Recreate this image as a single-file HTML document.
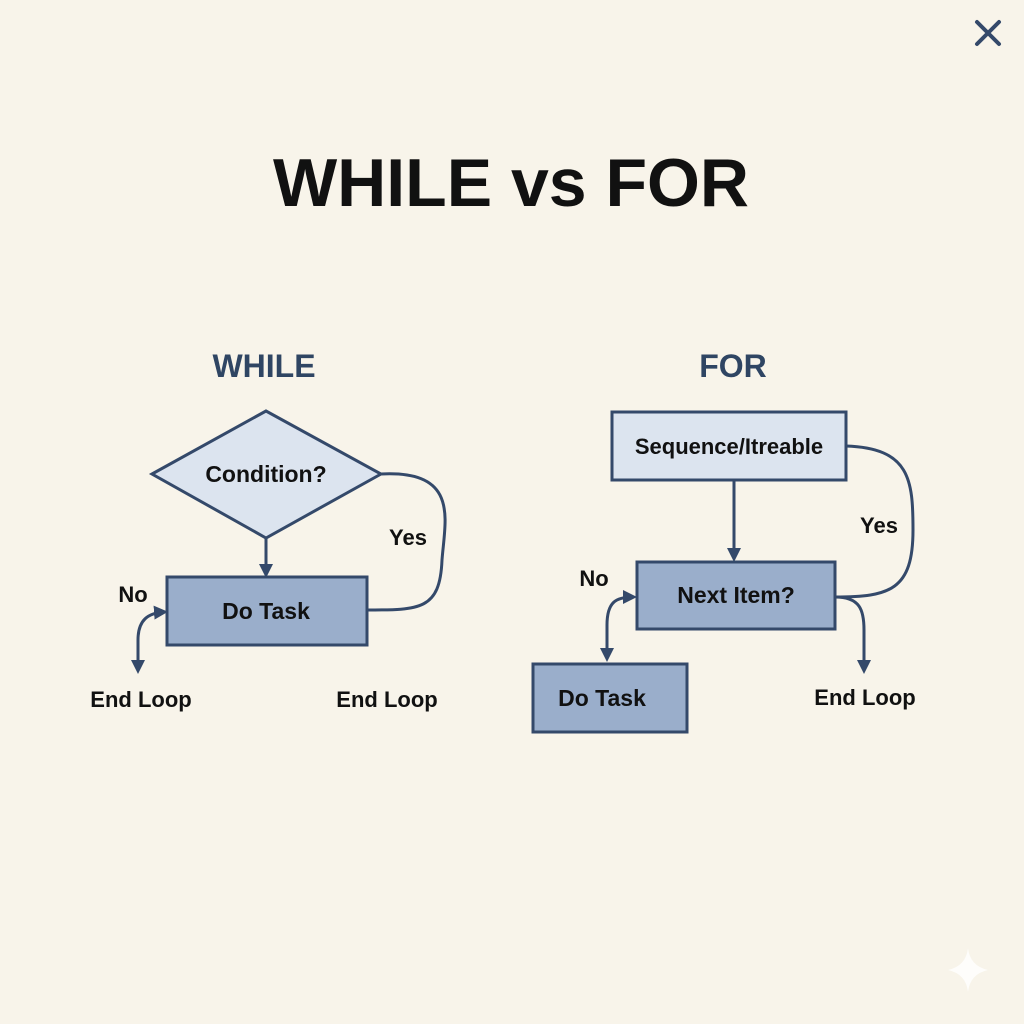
<!DOCTYPE html>
<html><head><style>
html,body{margin:0;padding:0;background:#f8f4ea;}
svg{display:block}
text{font-family:"Liberation Sans",sans-serif;font-weight:bold}
</style></head><body>
<svg width="1024" height="1024" viewBox="0 0 1024 1024" xmlns="http://www.w3.org/2000/svg">
<defs>
<marker id="a" markerWidth="14" markerHeight="14" refX="10" refY="7" orient="auto" markerUnits="userSpaceOnUse" viewBox="0 0 14 14"><path d="M0,0 L14,7 L0,14 z" fill="#34496a"/></marker>
</defs>
<rect width="1024" height="1024" fill="#f8f4ea"/>
<path d="M977,22 L999,44 M999,22 L977,44" stroke="#34496a" stroke-width="4" stroke-linecap="round"/>
<text x="511" y="206" font-size="68" text-anchor="middle" fill="#111" textLength="476" lengthAdjust="spacingAndGlyphs">WHILE vs FOR</text>
<text x="264" y="377" font-size="32" text-anchor="middle" fill="#2f4563">WHILE</text>
<text x="733" y="377" font-size="32" text-anchor="middle" fill="#2f4563">FOR</text>
<g stroke="#34496a" stroke-width="3" fill="none">
<polygon points="152,474 266,411 381,474 266,538" fill="#dce4ef"/>
<rect x="167" y="577" width="200" height="68" fill="#9aaecb"/>
<line x1="266" y1="538" x2="266" y2="574" marker-end="url(#a)"/>
<path d="M381,474 C460,470 445,520 442,560 C440,610 420,610 367,610"/>
<path d="M138,640 C138,620 148,613 164,612" marker-end="url(#a)"/>
<path d="M138,640 L138,670" marker-end="url(#a)"/>
<rect x="612" y="412" width="234" height="68" fill="#dce4ef"/>
<rect x="637" y="562" width="198" height="67" fill="#9aaecb"/>
<rect x="533" y="664" width="154" height="68" fill="#9aaecb"/>
<line x1="734" y1="480" x2="734" y2="558" marker-end="url(#a)"/>
<path d="M846,446 C910,448 913,480 913,530 C913,590 890,597 835,597"/>
<path d="M835,597 C860,597 864,610 864,630 L864,670" marker-end="url(#a)"/>
<path d="M607,625 C607,602 616,597 633,597" marker-end="url(#a)"/>
<path d="M607,625 L607,658" marker-end="url(#a)"/>
</g>
<g fill="#111" font-size="23" text-anchor="middle">
<text x="266" y="482">Condition?</text>
<text x="266" y="619">Do Task</text>
<text x="729" y="454" font-size="22">Sequence/Itreable</text>
<text x="736" y="603">Next Item?</text>
<text x="602" y="706">Do Task</text>
</g>
<g fill="#111" font-size="22" text-anchor="middle">
<text x="408" y="545">Yes</text>
<text x="133" y="602">No</text>
<text x="141" y="707">End Loop</text>
<text x="387" y="707">End Loop</text>
<text x="879" y="533">Yes</text>
<text x="594" y="586">No</text>
<text x="865" y="705">End Loop</text>
</g>
<path d="M968,948 Q970,966 988,970 Q970,974 968,992 Q966,974 948,970 Q966,966 968,948z" fill="#fff" opacity="0.8"/>
</svg>
</body></html>
